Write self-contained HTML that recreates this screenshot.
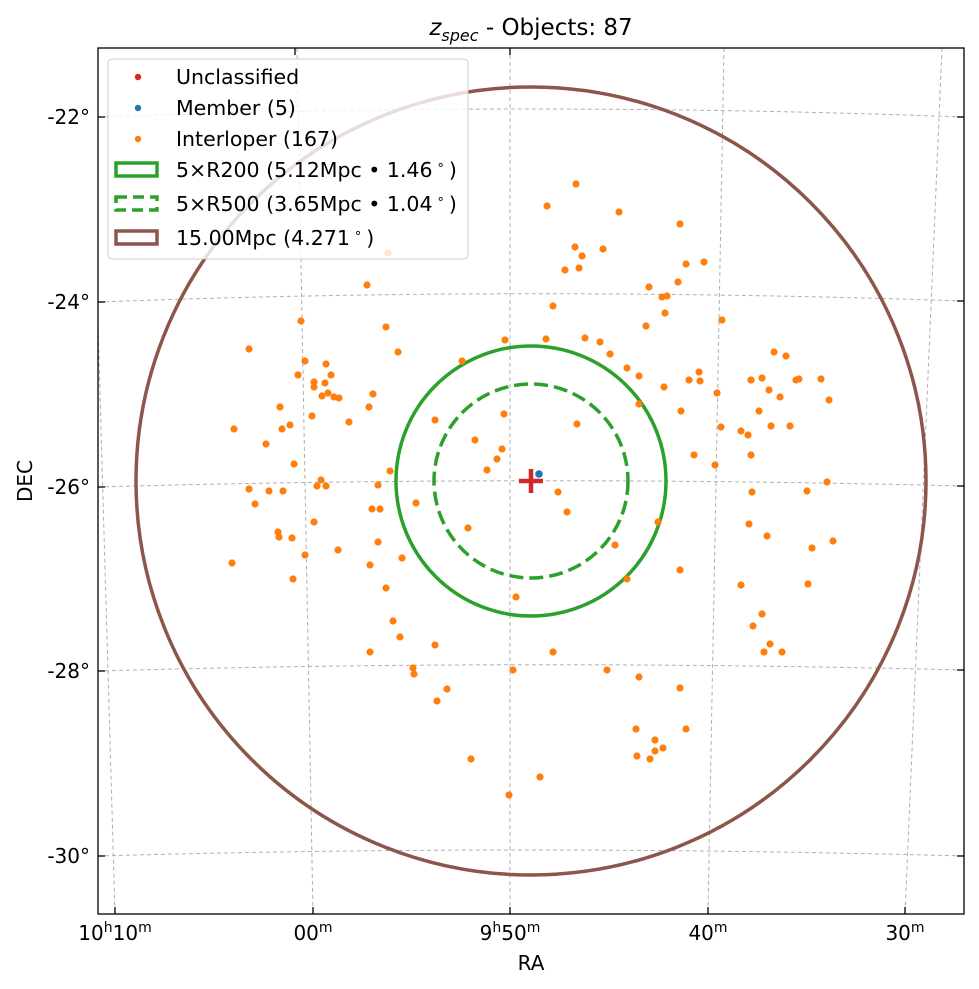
<!DOCTYPE html>
<html><head><meta charset="utf-8"><style>
html,body{margin:0;padding:0;background:#fff;}
svg{display:block;font-family:"DejaVu Sans","Liberation Sans",sans-serif;}
</style></head><body>
<svg width="979" height="989" viewBox="0 0 979 989" xmlns="http://www.w3.org/2000/svg">
<rect width="979" height="989" fill="#fff"/>
<defs><clipPath id="pc"><rect x="98" y="48" width="866" height="866"/></clipPath></defs>
<g clip-path="url(#pc)">
<g fill="none" stroke="#b0b0b0" stroke-width="1" stroke-dasharray="4,3">
<path d="M90,48 L115,914"/>
<path d="M297,48 L313,914"/>
<path d="M510,48 L510,914"/>
<path d="M724,48 L708,914"/>
<path d="M942,48 L905,914"/>
<path d="M98,117 Q530,101 964,117"/>
<path d="M98,302 Q520,286 964,301"/>
<path d="M98,487 Q520,475 964,486"/>
<path d="M98,671 Q520,659 964,670"/>
<path d="M98,856 Q520,844 964,856"/>
</g>
<ellipse cx="531" cy="481" rx="395" ry="394" fill="none" stroke="#8c564b" stroke-width="3.5"/>
<circle cx="531" cy="481" r="135" fill="none" stroke="#2ca02c" stroke-width="3.5"/>
<circle cx="531" cy="481" r="97" fill="none" stroke="#2ca02c" stroke-width="3.5" stroke-dasharray="14,6"/>
<g fill="#ff7f0e">
<circle cx="367" cy="285" r="3.6"/><circle cx="301" cy="321" r="3.6"/><circle cx="386" cy="327" r="3.6"/><circle cx="249" cy="349" r="3.6"/><circle cx="398" cy="352" r="3.6"/><circle cx="505" cy="340" r="3.6"/><circle cx="462" cy="361" r="3.6"/><circle cx="305" cy="361" r="3.6"/><circle cx="326" cy="364" r="3.6"/><circle cx="298" cy="375" r="3.6"/><circle cx="331" cy="375" r="3.6"/><circle cx="314" cy="382" r="3.6"/><circle cx="314" cy="387" r="3.6"/><circle cx="325" cy="383" r="3.6"/><circle cx="328" cy="393" r="3.6"/><circle cx="322" cy="396" r="3.6"/><circle cx="334" cy="397" r="3.6"/><circle cx="339" cy="398" r="3.6"/><circle cx="373" cy="394" r="3.6"/><circle cx="369" cy="407" r="3.6"/><circle cx="280" cy="407" r="3.6"/><circle cx="312" cy="416" r="3.6"/><circle cx="349" cy="422" r="3.6"/><circle cx="435" cy="420" r="3.6"/><circle cx="504" cy="414" r="3.6"/><circle cx="234" cy="429" r="3.6"/><circle cx="290" cy="425" r="3.6"/><circle cx="282" cy="429" r="3.6"/><circle cx="266" cy="444" r="3.6"/><circle cx="475" cy="440" r="3.6"/><circle cx="502" cy="449" r="3.6"/><circle cx="497" cy="459" r="3.6"/><circle cx="487" cy="470" r="3.6"/><circle cx="294" cy="464" r="3.6"/><circle cx="390" cy="471" r="3.6"/><circle cx="321" cy="480" r="3.6"/><circle cx="317" cy="486" r="3.6"/><circle cx="326" cy="486" r="3.6"/><circle cx="378" cy="485" r="3.6"/><circle cx="249" cy="489" r="3.6"/><circle cx="269" cy="491" r="3.6"/><circle cx="283" cy="491" r="3.6"/><circle cx="255" cy="504" r="3.6"/><circle cx="416" cy="503" r="3.6"/><circle cx="372" cy="509" r="3.6"/><circle cx="380" cy="509" r="3.6"/><circle cx="314" cy="522" r="3.6"/><circle cx="468" cy="528" r="3.6"/><circle cx="278" cy="532" r="3.6"/><circle cx="279" cy="537" r="3.6"/><circle cx="292" cy="538" r="3.6"/><circle cx="338" cy="550" r="3.6"/><circle cx="378" cy="542" r="3.6"/><circle cx="305" cy="555" r="3.6"/><circle cx="402" cy="558" r="3.6"/><circle cx="232" cy="563" r="3.6"/><circle cx="370" cy="565" r="3.6"/><circle cx="293" cy="579" r="3.6"/><circle cx="386" cy="588" r="3.6"/>
<circle cx="516" cy="597" r="3.6"/><circle cx="393" cy="621" r="3.6"/><circle cx="400" cy="637" r="3.6"/><circle cx="435" cy="645" r="3.6"/><circle cx="370" cy="652" r="3.6"/><circle cx="553" cy="652" r="3.6"/><circle cx="413" cy="668" r="3.6"/><circle cx="414" cy="674" r="3.6"/><circle cx="513" cy="670" r="3.6"/><circle cx="447" cy="689" r="3.6"/><circle cx="437" cy="701" r="3.6"/><circle cx="471" cy="759" r="3.6"/><circle cx="540" cy="777" r="3.6"/><circle cx="509" cy="795" r="3.6"/>
<circle cx="576" cy="184" r="3.6"/><circle cx="547" cy="206" r="3.6"/><circle cx="619" cy="212" r="3.6"/><circle cx="680" cy="224" r="3.6"/><circle cx="575" cy="247" r="3.6"/><circle cx="603" cy="249" r="3.6"/><circle cx="582" cy="256" r="3.6"/><circle cx="565" cy="270" r="3.6"/><circle cx="579" cy="268" r="3.6"/><circle cx="686" cy="264" r="3.6"/><circle cx="704" cy="262" r="3.6"/><circle cx="678" cy="282" r="3.6"/><circle cx="649" cy="287" r="3.6"/><circle cx="662" cy="297" r="3.6"/><circle cx="667" cy="296" r="3.6"/><circle cx="665" cy="313" r="3.6"/><circle cx="722" cy="320" r="3.6"/><circle cx="646" cy="326" r="3.6"/><circle cx="553" cy="306" r="3.6"/><circle cx="546" cy="339" r="3.6"/><circle cx="585" cy="338" r="3.6"/><circle cx="600" cy="342" r="3.6"/><circle cx="610" cy="354" r="3.6"/><circle cx="627" cy="368" r="3.6"/><circle cx="639" cy="376" r="3.6"/><circle cx="664" cy="387" r="3.6"/><circle cx="689" cy="380" r="3.6"/><circle cx="699" cy="372" r="3.6"/><circle cx="700" cy="381" r="3.6"/><circle cx="717" cy="393" r="3.6"/><circle cx="681" cy="411" r="3.6"/><circle cx="639" cy="404" r="3.6"/><circle cx="577" cy="424" r="3.6"/><circle cx="721" cy="427" r="3.6"/><circle cx="694" cy="455" r="3.6"/><circle cx="715" cy="465" r="3.6"/><circle cx="774" cy="352" r="3.6"/><circle cx="786" cy="356" r="3.6"/><circle cx="751" cy="380" r="3.6"/><circle cx="762" cy="378" r="3.6"/><circle cx="796" cy="380" r="3.6"/><circle cx="799" cy="379" r="3.6"/><circle cx="821" cy="379" r="3.6"/><circle cx="829" cy="400" r="3.6"/><circle cx="769" cy="390" r="3.6"/><circle cx="780" cy="397" r="3.6"/><circle cx="759" cy="411" r="3.6"/><circle cx="741" cy="431" r="3.6"/><circle cx="748" cy="435" r="3.6"/><circle cx="771" cy="426" r="3.6"/><circle cx="790" cy="426" r="3.6"/><circle cx="751" cy="455" r="3.6"/><circle cx="827" cy="482" r="3.6"/><circle cx="807" cy="491" r="3.6"/><circle cx="752" cy="492" r="3.6"/><circle cx="558" cy="492" r="3.6"/><circle cx="567" cy="512" r="3.6"/>
<circle cx="615" cy="545" r="3.6"/><circle cx="658" cy="522" r="3.6"/><circle cx="680" cy="570" r="3.6"/><circle cx="627" cy="579" r="3.6"/><circle cx="749" cy="524" r="3.6"/><circle cx="767" cy="536" r="3.6"/><circle cx="833" cy="541" r="3.6"/><circle cx="812" cy="548" r="3.6"/><circle cx="741" cy="585" r="3.6"/><circle cx="808" cy="584" r="3.6"/><circle cx="762" cy="614" r="3.6"/><circle cx="753" cy="626" r="3.6"/><circle cx="770" cy="644" r="3.6"/><circle cx="764" cy="652" r="3.6"/><circle cx="782" cy="652" r="3.6"/><circle cx="607" cy="670" r="3.6"/><circle cx="639" cy="677" r="3.6"/><circle cx="680" cy="688" r="3.6"/><circle cx="636" cy="729" r="3.6"/><circle cx="686" cy="729" r="3.6"/><circle cx="655" cy="740" r="3.6"/><circle cx="663" cy="748" r="3.6"/><circle cx="655" cy="751" r="3.6"/><circle cx="637" cy="756" r="3.6"/><circle cx="650" cy="759" r="3.6"/>
<circle cx="388" cy="253" r="3.6"/>
</g>
<circle cx="539" cy="474" r="3.8" fill="#1f77b4"/>
<g stroke="#d62728" stroke-width="4.5"><line x1="519" y1="481" x2="543" y2="481"/><line x1="531" y1="469" x2="531" y2="493"/></g>
</g>
<rect x="98" y="48" width="866" height="866" fill="none" stroke="#000" stroke-width="1.3"/>
<g stroke="#000" stroke-width="1.3">
<line x1="98" y1="117" x2="105" y2="117"/><line x1="98" y1="302" x2="105" y2="302"/><line x1="98" y1="487" x2="105" y2="487"/><line x1="98" y1="671" x2="105" y2="671"/><line x1="98" y1="856" x2="105" y2="856"/>
<line x1="964" y1="117" x2="957" y2="117"/><line x1="964" y1="301" x2="957" y2="301"/><line x1="964" y1="486" x2="957" y2="486"/><line x1="964" y1="670" x2="957" y2="670"/><line x1="964" y1="856" x2="957" y2="856"/>
<line x1="115" y1="914" x2="115" y2="907"/><line x1="313" y1="914" x2="313" y2="907"/><line x1="510" y1="914" x2="510" y2="907"/><line x1="708" y1="914" x2="708" y2="907"/><line x1="905" y1="914" x2="905" y2="907"/>
<line x1="295" y1="48" x2="295" y2="55"/><line x1="510" y1="48" x2="510" y2="55"/>
</g>
<g font-size="20" text-anchor="end" fill="#000">
<text x="90" y="124">-22°</text><text x="90" y="309">-24°</text><text x="90" y="494">-26°</text><text x="90" y="678">-28°</text><text x="90" y="863">-30°</text>
</g>
<g font-size="20" text-anchor="middle" fill="#000">
<text x="115" y="940">10<tspan font-size="14" dy="-8">h</tspan><tspan dy="8">10</tspan><tspan font-size="14" dy="-8">m</tspan></text>
<text x="313" y="940">00<tspan font-size="14" dy="-8">m</tspan></text>
<text x="510" y="940">9<tspan font-size="14" dy="-8">h</tspan><tspan dy="8">50</tspan><tspan font-size="14" dy="-8">m</tspan></text>
<text x="708" y="940">40<tspan font-size="14" dy="-8">m</tspan></text>
<text x="905" y="940">30<tspan font-size="14" dy="-8">m</tspan></text>
<text x="531" y="970">RA</text>
<text x="0" y="0" transform="translate(32,481) rotate(-90)">DEC</text>
<text x="531" y="35" font-size="23"><tspan font-style="italic">z</tspan><tspan font-style="italic" font-size="16" dy="6">spec</tspan><tspan dy="-6"> - Objects: 87</tspan></text>
</g>
<rect x="108" y="59" width="360" height="200" rx="4" fill="#fff" fill-opacity="0.8" stroke="#ccc" stroke-width="1"/>
<circle cx="138" cy="77" r="3.2" fill="#d62728"/>
<circle cx="138" cy="108" r="3.2" fill="#1f77b4"/>
<circle cx="138" cy="139" r="3.2" fill="#ff7f0e"/>
<rect x="116" y="163" width="41" height="13" fill="none" stroke="#2ca02c" stroke-width="3.5"/>
<rect x="116" y="197" width="41" height="13" fill="none" stroke="#2ca02c" stroke-width="3.5" stroke-dasharray="11,6"/>
<rect x="116" y="231" width="41" height="13" fill="none" stroke="#8c564b" stroke-width="3.5"/>
<g font-size="20.5" fill="#000">
<text x="176" y="84">Unclassified</text>
<text x="176" y="115">Member (5)</text>
<text x="176" y="146">Interloper (167)</text>
<text x="176" y="177">5×R200 (5.12Mpc • 1.46<tspan font-size="13" dy="-8"> ∘ </tspan><tspan dy="8">)</tspan></text>
<text x="176" y="211">5×R500 (3.65Mpc • 1.04<tspan font-size="13" dy="-8"> ∘ </tspan><tspan dy="8">)</tspan></text>
<text x="176" y="245">15.00Mpc (4.271<tspan font-size="13" dy="-8"> ∘ </tspan><tspan dy="8">)</tspan></text>
</g>
</svg>
</body></html>
